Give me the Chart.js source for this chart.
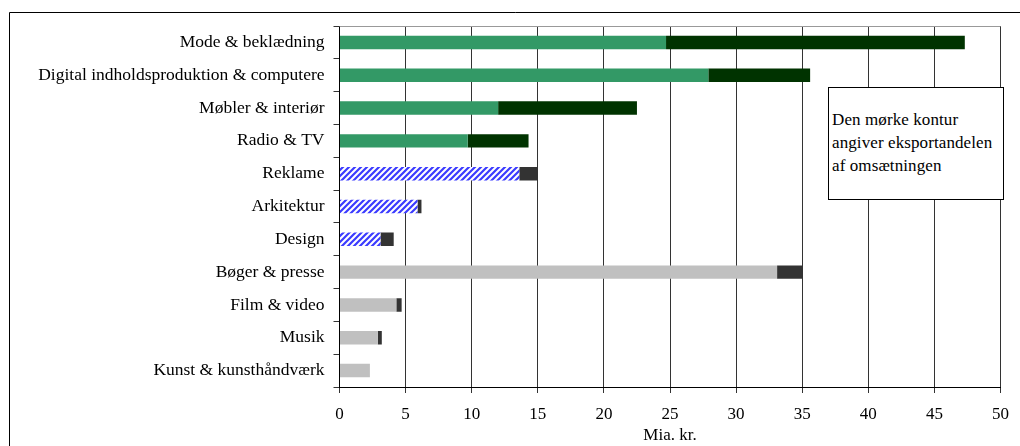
<!DOCTYPE html>
<html lang="da">
<head>
<meta charset="utf-8">
<title>Omsætning og eksport i de kreative erhverv</title>
<script src="https://cdn.jsdelivr.net/npm/chart.js@4/dist/chart.umd.min.js"></script>
<style>
  html, body { margin: 0; padding: 0; background: #fff; }
  #wrap { position: relative; width: 1020px; height: 446px; }
  #chart { position: absolute; left: 0; top: 0; }
  #note {
    position: absolute; left: 828px; top: 87px; width: 176px; height: 113px;
    border: 1px solid #000; background: #fff; box-sizing: border-box;
    font-family: "Liberation Serif", "Times New Roman", serif; font-size: 17px;
    line-height: 23px; color: #000; padding: 20px 0 0 3px; letter-spacing: 0.1px;
  }
</style>
</head>
<body>
<div id="wrap">
  <canvas id="chart" width="1020" height="446"></canvas>
  <div id="note">Den mørke kontur<br>angiver eksportandelen<br>af omsætningen</div>
</div>
<script>
// Branches, top to bottom
const categories = [
  'Mode & beklædning',
  'Digital indholdsproduktion & computere',
  'Møbler & interiør',
  'Radio & TV',
  'Reklame',
  'Arkitektur',
  'Design',
  'Bøger & presse',
  'Film & video',
  'Musik',
  'Kunst & kunsthåndværk'
];
// Turnover excluding exports (mia. kr.)
const domestic = [24.7, 27.9, 12.0, 9.7, 13.6, 5.9, 3.1, 33.1, 4.3, 2.9, 2.3];
// Export share of turnover (mia. kr.)
const exports = [22.6, 7.7, 10.5, 4.6, 1.4, 0.3, 1.0, 1.9, 0.4, 0.3, 0.0];
// Axis ticks
const xTicks = [0, 5, 10, 15, 20, 25, 30, 35, 40, 45, 50];
const xTitle = 'Mia. kr.';

const SERIF = '"Liberation Serif", "Times New Roman", serif';
const FONT = { family: SERIF, size: 17 };
const LABEL_FONT = { family: SERIF, size: 17.5 };

// Blue diagonal hatch used for the service branches
function makeHatch() {
  const c = document.createElement('canvas');
  c.width = 6; c.height = 6;
  const g = c.getContext('2d');
  g.fillStyle = '#ffffff';
  g.fillRect(0, 0, 6, 6);
  g.strokeStyle = '#3b3bff';
  g.lineWidth = 2.2;
  g.beginPath();
  g.moveTo(-1, 7); g.lineTo(7, -1);
  g.moveTo(-4, 4); g.lineTo(4, -4);
  g.moveTo(2, 10); g.lineTo(10, 2);
  g.stroke();
  return g.createPattern(c, 'repeat');
}
const hatch = makeHatch();

const groupOf = i => (i < 4 ? 0 : i < 7 ? 1 : 2);
const baseColors = categories.map((_, i) => ['#339966', hatch, '#c0c0c0'][groupOf(i)]);
const exportColors = categories.map((_, i) => (groupOf(i) === 0 ? '#003300' : '#333333'));

// Outer frame and the plot-area top edge
const frame = {
  id: 'frame',
  beforeDraw(chart) {
    const ctx = chart.ctx;
    ctx.save();
    ctx.strokeStyle = '#000';
    ctx.lineWidth = 1;
    ctx.beginPath();
    ctx.moveTo(9.5, 460); ctx.lineTo(9.5, 12.5); ctx.lineTo(1030, 12.5);
    ctx.stroke();
    ctx.restore();
  },
  beforeDatasetsDraw(chart) {
    const { ctx, chartArea: a } = chart;
    ctx.save();
    ctx.strokeStyle = '#999';
    ctx.lineWidth = 1;
    ctx.beginPath();
    ctx.moveTo(a.left, Math.round(a.top) + 0.5);
    ctx.lineTo(a.right, Math.round(a.top) + 0.5);
    ctx.stroke();
    ctx.restore();
  }
};

new Chart(document.getElementById('chart'), {
  type: 'bar',
  data: {
    labels: categories,
    datasets: [
      { label: 'Omsætning', data: domestic, backgroundColor: baseColors, borderWidth: 0 },
      { label: 'Eksport', data: exports, backgroundColor: exportColors, borderWidth: 0 }
    ]
  },
  options: {
    indexAxis: 'y',
    responsive: false,
    animation: false,
    events: [],
    layout: { padding: { top: 26, right: 17, left: 0, bottom: 0 } },
    datasets: { bar: { categoryPercentage: 1, barPercentage: 0.41 } },
    plugins: { legend: { display: false }, tooltip: { enabled: false } },
    scales: {
      x: {
        stacked: true,
        min: 0, max: 50,
        afterBuildTicks(scale) { scale.ticks = xTicks.map(v => ({ value: v })); },
        afterFit(scale) { scale.height = 59; },
        grid: { color: '#333', lineWidth: 1, tickLength: 6, drawTicks: true },
        border: { display: true, color: '#000', width: 1 },
        ticks: { color: '#000', font: FONT, padding: 11, maxRotation: 0 },
        title: { display: true, text: xTitle, color: '#000', font: FONT, padding: { top: 0, bottom: 0 } }
      },
      y: {
        stacked: true,
        afterFit(scale) { scale.width = 339.5; },
        grid: { drawOnChartArea: false, drawTicks: true, tickLength: 6, color: '#333', offset: true },
        border: { display: true, color: '#000', width: 1 },
        ticks: { color: '#000', font: LABEL_FONT, padding: 9, autoSkip: false }
      }
    }
  },
  plugins: [frame]
});
</script>
</body>
</html>
